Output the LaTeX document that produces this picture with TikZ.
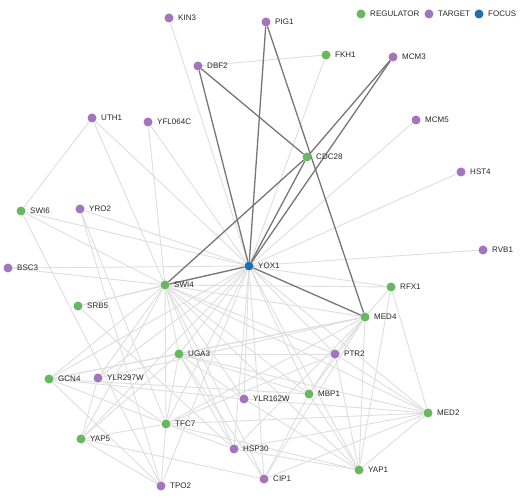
\documentclass[tikz,border=0pt]{standalone}
\usepackage{fontspec}
\setmainfont{Liberation Sans}
\usepackage{tikz}
\usetikzlibrary{backgrounds}
\definecolor{regc}{RGB}{104,184,96}
\definecolor{tgtc}{RGB}{164,116,190}
\definecolor{focc}{RGB}{30,112,178}
\definecolor{weakc}{RGB}{222,222,222}
\definecolor{strongc}{RGB}{118,118,118}
\tikzset{
  dot/.style={circle,inner sep=0pt,minimum size=9pt,
    label={[font=\fontsize{8}{9}\selectfont,text=black!85,label distance=1pt]right:#1}},
  reg/.style={dot=#1,fill=regc},
  tgt/.style={dot=#1,fill=tgtc},
  foc/.style={dot=#1,fill=focc},
  weak/.style={weakc,line width=0.9pt},
  strong/.style={strongc,line width=1.3pt},
}
\begin{document}
\begin{tikzpicture}[x=1pt,y=-1pt]
\useasboundingbox (0,0) rectangle (520,502);
% legend
\node[reg=REGULATOR] (lgreg) at (361,14) {};
\node[tgt=TARGET] (lgtgt) at (429,14) {};
\node[foc=FOCUS] (lgfoc) at (479,14) {};
% genes
\node[tgt=KIN3] (kin3) at (169,18) {};
\node[tgt=PIG1] (pig1) at (266,22) {};
\node[tgt=DBF2] (dbf2) at (198,66) {};
\node[reg=FKH1] (fkh1) at (326,55) {};
\node[tgt=MCM3] (mcm3) at (393,57) {};
\node[tgt=UTH1] (uth1) at (92,118) {};
\node[tgt=YFL064C] (yfl) at (148,122) {};
\node[tgt=MCM5] (mcm5) at (416,120) {};
\node[reg=CDC28] (cdc28) at (307,157) {};
\node[tgt=HST4] (hst4) at (461,172) {};
\node[reg=SWI6] (swi6) at (21,211) {};
\node[tgt=YRO2] (yro2) at (80,209) {};
\node[foc=YOX1] (yox1) at (249,266) {};
\node[tgt=RVB1] (rvb1) at (483,250) {};
\node[tgt=BSC3] (bsc3) at (8,268) {};
\node[reg=SWI4] (swi4) at (165,285) {};
\node[reg=RFX1] (rfx1) at (391,287) {};
\node[reg=SRB5] (srb5) at (78,306) {};
\node[reg=MED4] (med4) at (365,317) {};
\node[reg=UGA3] (uga3) at (179,354) {};
\node[tgt=PTR2] (ptr2) at (335,354) {};
\node[reg=GCN4] (gcn4) at (49,379) {};
\node[tgt=YLR297W] (ylr297) at (98,378) {};
\node[tgt=YLR162W] (ylr162) at (244,399) {};
\node[reg=MBP1] (mbp1) at (309,394) {};
\node[reg=MED2] (med2) at (428,413) {};
\node[reg=TFC7] (tfc7) at (166,424) {};
\node[reg=YAP5] (yap5) at (81,439) {};
\node[tgt=HSP30] (hsp30) at (234,449) {};
\node[reg=YAP1] (yap1) at (359,470) {};
\node[tgt=CIP1] (cip1) at (264,479) {};
\node[tgt=TPO2] (tpo2) at (161,486) {};
% edges
\begin{scope}[on background layer]
\foreach \g in {kin3,fkh1,uth1,yfl,mcm5,hst4,rvb1,swi6,yro2,bsc3,rfx1,uga3,ptr2,gcn4,
  ylr297,ylr162,mbp1,med2,tfc7,yap5,hsp30,yap1,cip1,tpo2,srb5}
  \draw[weak] (yox1) -- (\g);
\foreach \g in {rfx1,med4,uga3,gcn4,ylr297,tfc7,hsp30,cip1,mbp1,med2,yap1,ptr2,ylr162,yap5,
  uth1,yfl,swi6,bsc3,srb5}
  \draw[weak] (swi4) -- (\g);
\foreach \a/\b in {dbf2/fkh1,uth1/swi6,swi6/tpo2,yro2/tfc7,yro2/tpo2,srb5/hsp30,
  rfx1/med4,rfx1/med2,rfx1/yap1,
  med4/yap1,med4/uga3,med4/ylr297,med4/gcn4,med4/mbp1,med4/hsp30,med4/tfc7,med4/cip1,med4/ptr2,
  med2/yap1,med2/ylr162,med2/hsp30,med2/cip1,med2/ptr2,med2/uga3,med2/tfc7,
  yap1/mbp1,yap1/hsp30,yap1/tfc7,yap1/ptr2,yap1/ylr162,
  mbp1/cip1,mbp1/uga3,mbp1/gcn4,mbp1/ptr2,
  uga3/tfc7,uga3/yap5,uga3/hsp30,uga3/cip1,uga3/ptr2,uga3/ylr162,uga3/gcn4,
  tfc7/tpo2,tfc7/yap5,tfc7/gcn4,tfc7/ylr297,tfc7/hsp30,tfc7/ptr2,
  gcn4/tpo2,gcn4/ylr162,yap5/cip1,yap5/tpo2,yap5/ylr297}
  \draw[weak] (\a) -- (\b);
% focus links
\foreach \a/\b in {pig1/yox1,pig1/med4,dbf2/yox1,dbf2/cdc28,mcm3/cdc28,mcm3/yox1,
  cdc28/yox1,cdc28/swi4,swi4/yox1,yox1/med4}
  \draw[strong] (\a) -- (\b);
\end{scope}
\end{tikzpicture}
\end{document}
